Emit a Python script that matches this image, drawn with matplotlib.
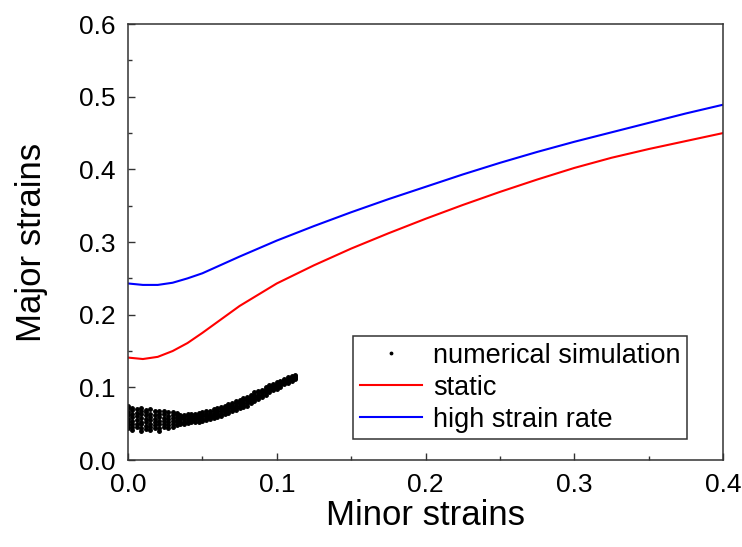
import numpy as np
import matplotlib.pyplot as plt
from matplotlib.ticker import MultipleLocator

plt.rcParams['font.family'] = ['Liberation Sans', 'DejaVu Sans']

# curvas
minor_x = [0.0, 0.01, 0.02, 0.03, 0.04, 0.05, 0.075, 0.1, 0.125, 0.15, 0.175,
           0.2, 0.225, 0.25, 0.275, 0.3, 0.325, 0.35, 0.375, 0.4]
static_y = [0.141, 0.139, 0.142, 0.150, 0.161, 0.175, 0.212, 0.243, 0.268, 0.291, 0.312,
            0.332, 0.351, 0.369, 0.386, 0.402, 0.416, 0.428, 0.439, 0.450]
high_rate_y = [0.243, 0.241, 0.241, 0.244, 0.250, 0.257, 0.280, 0.302, 0.322, 0.341, 0.359,
               0.376, 0.393, 0.409, 0.424, 0.438, 0.451, 0.464, 0.477, 0.489]

# simulacion numerica: columnas de puntos (x, lista de y)
sim_cols = [0.000, 0.003, 0.006, 0.009, 0.012, 0.015, 0.018, 0.021, 0.024, 0.027,
            0.030, 0.033,
            0.035, 0.0375, 0.040, 0.0425, 0.045, 0.0475, 0.050, 0.0525, 0.055, 0.0575,
            0.060, 0.0625, 0.065, 0.0675, 0.070, 0.0725, 0.075, 0.0775, 0.080, 0.0825,
            0.085, 0.0875, 0.090, 0.0925, 0.095, 0.0975, 0.100, 0.1025, 0.105, 0.1075,
            0.110, 0.112]
sim_ys = [
    [0.044, 0.048, 0.052, 0.057, 0.062, 0.066, 0.071, 0.075],
    [0.041, 0.045, 0.050, 0.054, 0.059, 0.064, 0.069, 0.072],
    [0.046, 0.050, 0.055, 0.060, 0.065, 0.070],
    [0.040, 0.044, 0.049, 0.053, 0.058, 0.063, 0.067, 0.071],
    [0.043, 0.047, 0.052, 0.057, 0.062, 0.066, 0.069],
    [0.041, 0.045, 0.050, 0.055, 0.059, 0.064, 0.070],
    [0.044, 0.048, 0.053, 0.057, 0.062, 0.068],
    [0.040, 0.044, 0.049, 0.054, 0.059, 0.064, 0.068],
    [0.045, 0.049, 0.054, 0.058, 0.063, 0.067],
    [0.044, 0.048, 0.052, 0.057, 0.061, 0.066],
    [0.046, 0.050, 0.054, 0.058, 0.062, 0.066],
    [0.048, 0.052, 0.055, 0.059, 0.063, 0.065],
    [0.050, 0.053, 0.056, 0.059, 0.062],
    [0.050, 0.053, 0.056, 0.059, 0.062],
    [0.051, 0.054, 0.057, 0.060, 0.063],
    [0.052, 0.055, 0.058, 0.061, 0.063],
    [0.052, 0.055, 0.058, 0.061, 0.064],
    [0.053, 0.056, 0.059, 0.062, 0.065],
    [0.054, 0.057, 0.060, 0.063, 0.066],
    [0.055, 0.058, 0.061, 0.064, 0.067],
    [0.056, 0.059, 0.062, 0.065, 0.068],
    [0.058, 0.061, 0.064, 0.067, 0.070],
    [0.059, 0.062, 0.065, 0.068, 0.071],
    [0.061, 0.064, 0.067, 0.070, 0.073],
    [0.063, 0.066, 0.069, 0.072, 0.075],
    [0.065, 0.068, 0.071, 0.074, 0.077],
    [0.067, 0.070, 0.073, 0.076, 0.079],
    [0.069, 0.072, 0.075, 0.078, 0.081],
    [0.071, 0.074, 0.077, 0.080, 0.083],
    [0.073, 0.076, 0.079, 0.082, 0.085],
    [0.075, 0.078, 0.081, 0.084, 0.087],
    [0.078, 0.081, 0.084, 0.087, 0.090],
    [0.081, 0.084, 0.087, 0.090, 0.093],
    [0.084, 0.087, 0.090, 0.093, 0.095],
    [0.087, 0.090, 0.092, 0.095, 0.097],
    [0.090, 0.093, 0.095, 0.098, 0.100],
    [0.093, 0.096, 0.098, 0.101, 0.103],
    [0.096, 0.098, 0.100, 0.103, 0.105],
    [0.098, 0.100, 0.102, 0.105, 0.107],
    [0.101, 0.103, 0.105, 0.107, 0.109],
    [0.104, 0.106, 0.108, 0.110, 0.112],
    [0.106, 0.108, 0.110, 0.112, 0.114],
    [0.109, 0.111, 0.112, 0.114, 0.116],
    [0.111, 0.113, 0.114, 0.116, 0.117],
]

sim_x = []
sim_y = []
for x, ys in zip(sim_cols, sim_ys):
    for y in ys:
        sim_x.append(x)
        sim_y.append(y)

fig = plt.figure(figsize=(7.42, 5.47), dpi=100)
ax = fig.add_axes([0.1725, 0.159, 0.802, 0.797])

ax.plot(sim_x, sim_y, linestyle='none', marker='.', markersize=5, color='black',
        label='numerical simulation')
ax.plot(minor_x, static_y, color='#ff0000', lw=1.5, label='static')
ax.plot(minor_x, high_rate_y, color='#0000ff', lw=1.5, label='high strain rate')

ax.set_xlim(0, 0.4)
ax.set_ylim(0, 0.6)
ax.xaxis.set_major_locator(MultipleLocator(0.1))
ax.xaxis.set_minor_locator(MultipleLocator(0.05))
ax.yaxis.set_major_locator(MultipleLocator(0.1))
ax.yaxis.set_minor_locator(MultipleLocator(0.05))
ax.xaxis.set_major_formatter(plt.FuncFormatter(lambda v, p: f'{v:.1f}'))
ax.yaxis.set_major_formatter(plt.FuncFormatter(lambda v, p: f'{v:.1f}'))

ax.tick_params(which='both', direction='in', top=False, right=False, color='#333333',
               labelcolor='black')
ax.tick_params(which='major', length=5, width=1, labelsize=19, pad=9)
ax.tick_params(which='minor', length=3, width=1)
for s in ax.spines.values():
    s.set_linewidth(1.1)
    s.set_color('#333333')

ax.set_xlabel('Minor strains', fontsize=25, labelpad=2)
ax.set_ylabel('Major strains', fontsize=25, labelpad=22)

leg = ax.legend(loc='upper left', bbox_to_anchor=(353 / 742, 1 - 336 / 547),
                bbox_transform=fig.transFigure, fontsize=19.5, frameon=True,
                fancybox=False, edgecolor='#333333', framealpha=1, numpoints=1,
                markerscale=0.7, handlelength=2.3, handletextpad=0.4,
                labelspacing=0.22, borderpad=0.25, borderaxespad=0)
leg.get_frame().set_linewidth(1.1)

fig.savefig('out.png', dpi=100)
